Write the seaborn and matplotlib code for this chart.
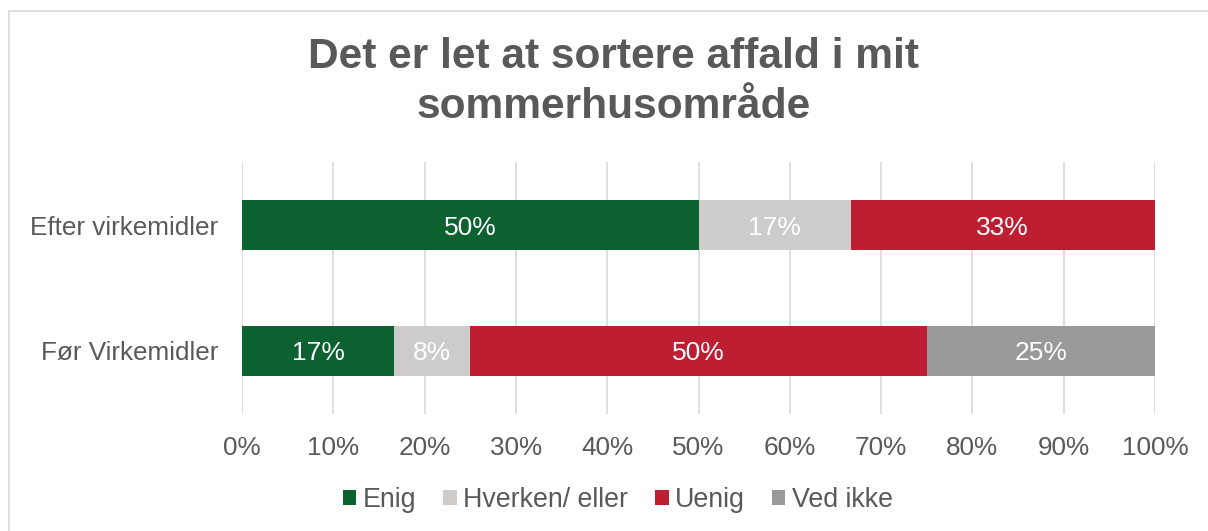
import matplotlib
matplotlib.use("Agg")
import matplotlib.pyplot as plt
from matplotlib.lines import Line2D
from matplotlib.patches import Patch
import seaborn as sns
import pandas as pd
import numpy as np

# ---- data ----
categories = ["Efter virkemidler", "Før Virkemidler"]
series = ["Enig", "Hverken/ eller", "Uenig", "Ved ikke"]
enig = [50.0, 16.67]
hverken = [16.67, 8.33]
uenig = [33.33, 50.0]
ved_ikke = [0.0, 25.0]
x_ticks = [0, 10, 20, 30, 40, 50, 60, 70, 80, 90, 100]
title = "Det er let at sortere affald i mit\nsommerhusområde"

colors = ["#0B6130", "#CDCCCA", "#BE1E32", "#999999"]
text_color = "#595959"
grid_color = "#D9D9D9"

sns.set_theme(style="white")
plt.rcParams["font.family"] = ["Liberation Sans", "DejaVu Sans"]

values = np.array([enig, hverken, uenig, ved_ikke])  # series x categories
cum = np.cumsum(values, axis=0)

fig = plt.figure(figsize=(12.08, 5.31), dpi=100)
ax = fig.add_axes([242 / 1208, 1 - 414 / 531, (1155 - 242) / 1208, (414 - 162) / 531])

# draw stacked bars: cumulative totals, largest first
for i in range(len(series) - 1, -1, -1):
    df = pd.DataFrame({"cat": categories, "val": cum[i]})
    sns.barplot(data=df, x="val", y="cat", orient="h", color=colors[i],
                width=0.4, saturation=1, ax=ax, zorder=2, linewidth=0)

# data labels
for i in range(len(series)):
    for j, cat in enumerate(categories):
        v = values[i, j]
        if v <= 0:
            continue
        center = cum[i, j] - v / 2
        ax.text(center, j, f"{round(v):.0f}%", ha="center", va="center_baseline",
                color="white", fontsize=19, zorder=5)

ax.set_xlim(0, 100)
ax.set_ylim(1.5, -0.5)
ax.set_xticks(x_ticks)
ax.set_xticklabels([f"{t}%" for t in x_ticks])
ax.xaxis.grid(True, color=grid_color, linewidth=1.2, zorder=0)
ax.set_axisbelow(True)
for s in ax.spines.values():
    s.set_visible(False)
ax.tick_params(axis="x", length=0, pad=16, labelsize=18.8, labelcolor=text_color)
ax.tick_params(axis="y", length=0, pad=17, labelsize=18.8, labelcolor=text_color)
ax.set_xlabel("")
ax.set_ylabel("")

# title
fig.text(614 / 1208, 1 - 37 / 531, title, ha="center", va="top",
         fontsize=30.6, fontweight="bold", color=text_color, linespacing=1.33)

# legend
handles = [Patch(facecolor=c, edgecolor="none") for c in colors]
leg = fig.legend(handles, series, loc="center", bbox_to_anchor=(618 / 1208, 1 - 500 / 531),
                 ncol=4, frameon=False, fontsize=19.3, handlelength=0.5, handleheight=0.5,
                 handletextpad=0.25, columnspacing=1.0)
for t in leg.get_texts():
    t.set_color(text_color)

# chart border (top and left visible)
fig.add_artist(Line2D([8.5 / 1208, 8.5 / 1208], [0, 1 - 10.5 / 531], transform=fig.transFigure,
                      color=grid_color, linewidth=1.2))
fig.add_artist(Line2D([8.5 / 1208, 1], [1 - 10.5 / 531, 1 - 10.5 / 531], transform=fig.transFigure,
                      color=grid_color, linewidth=1.2))

fig.savefig("out.png", dpi=100, facecolor="white")
